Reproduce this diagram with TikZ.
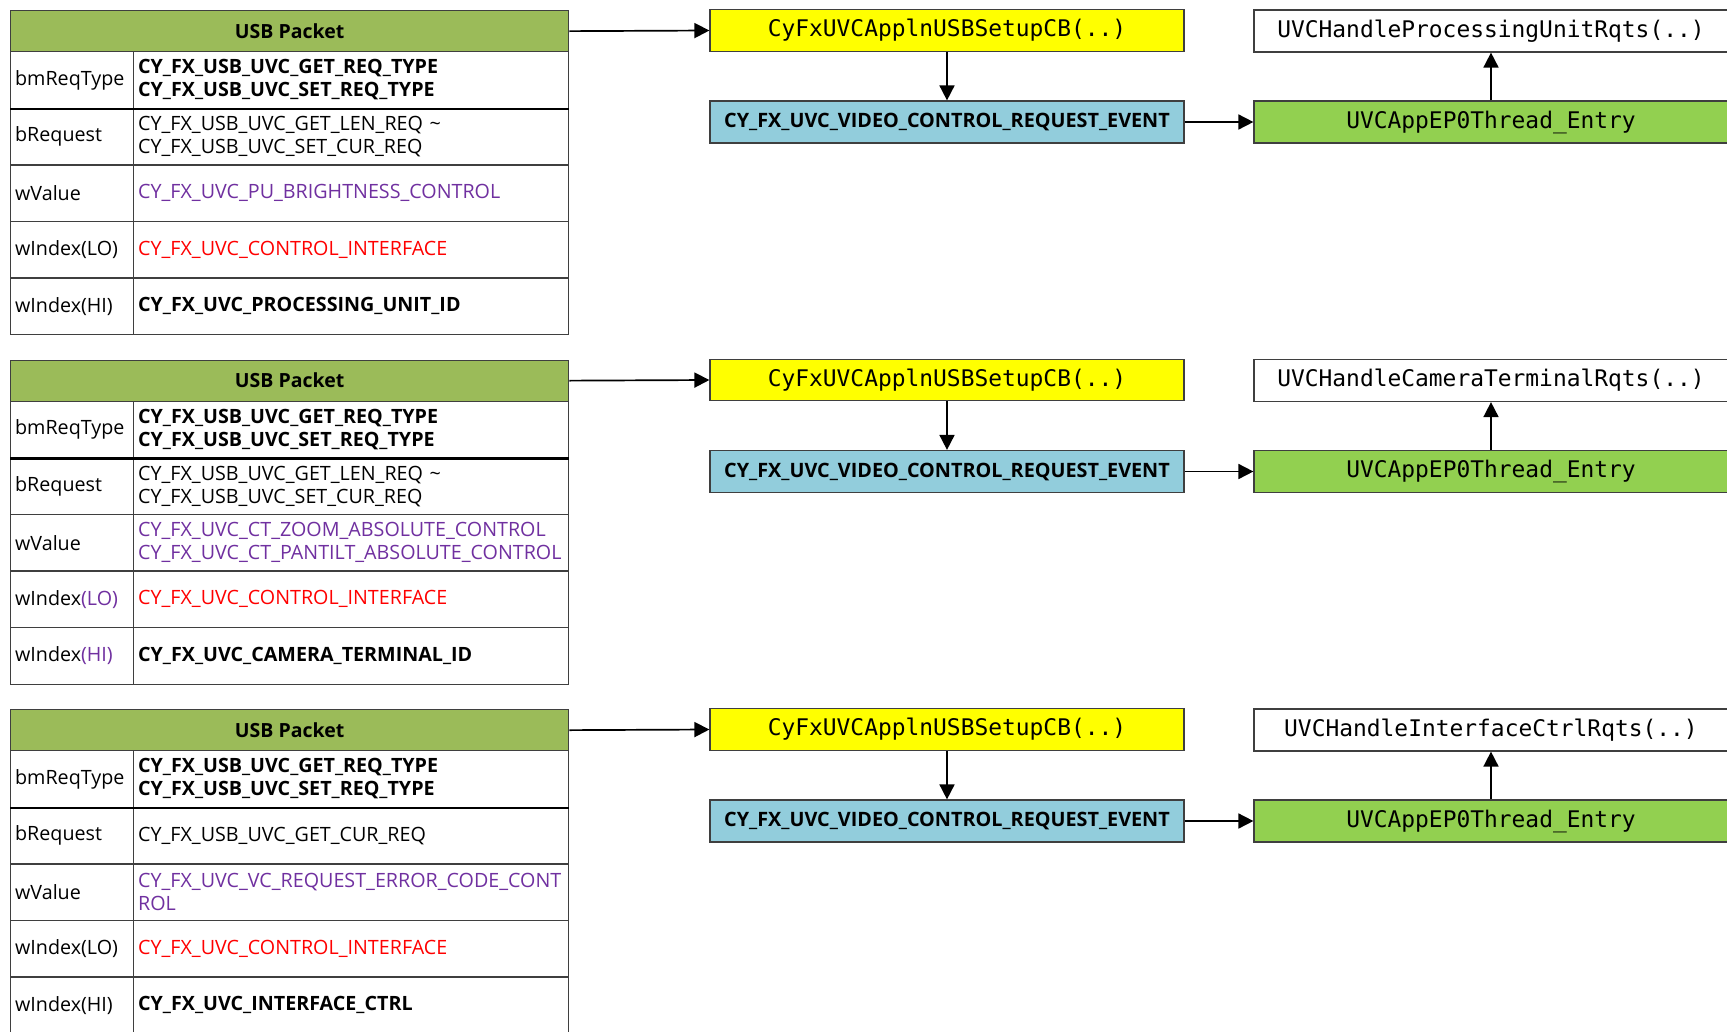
\documentclass[tikz,border=0pt]{standalone}
\usepackage{fontspec}
\usetikzlibrary{arrows.meta}
\newfontfamily\cellfont{Open Sans}
\newfontfamily\codefont{DejaVu Sans Mono}

\definecolor{hdrgreen}{HTML}{9BBB59}
\definecolor{evblue}{HTML}{92CDDC}
\definecolor{epgreen}{HTML}{92D050}
\definecolor{cbyellow}{HTML}{FFFF00}
\definecolor{valpurple}{HTML}{7030A0}
\definecolor{ifred}{HTML}{FF0000}
\definecolor{rulegray}{HTML}{3F3F3F}

\tikzset{
  tblcell/.style={draw=rulegray, line width=1.3pt, anchor=north west,
    minimum height=56.6pt, inner xsep=4.5pt, inner ysep=0pt, align=left,
    font=\cellfont\fontsize{19.7}{23}\selectfont,
    execute at begin node={\hyphenpenalty=10000\exhyphenpenalty=10000}},
  keycell/.style={tblcell, text width=114pt},
  valcell/.style={tblcell, text width=426pt},
  pkthead/.style={draw=rulegray, line width=1.3pt, fill=hdrgreen, anchor=north west,
    minimum width=558pt, minimum height=41pt, inner sep=0pt,
    font=\cellfont\bfseries\fontsize{19.5}{23}\selectfont},
  fnbox/.style={draw=rulegray, line width=1.2pt, minimum width=474pt,
    minimum height=41.5pt, inner sep=0pt,
    font=\codefont\fontsize{22.9}{26}\selectfont},
  evbox/.style={draw=rulegray, line width=1.2pt, fill=evblue, minimum width=474pt,
    minimum height=42pt, inner sep=0pt,
    font=\cellfont\bfseries\fontsize{19.8}{23}\selectfont},
  flow/.style={-{Triangle[length=15pt,width=15pt]}, line width=1.7pt},
}

% #1 name prefix, #2 vertical offset, #3 bRequest, #4 wValue,
% #5 wIndex(LO) key, #6 wIndex(HI) key, #7 wIndex(HI) value, #8 handler
\newcommand\packetgroup[8]{%
\begin{scope}[shift={(0,#2)}]
  % request table
  \node[pkthead] (#1hdr) at (10,10) {USB Packet};
  \node[keycell] (#1bmk) at (10,51) {bmReqType};
  \node[valcell] (#1bmv) at (133,51)
    {\bfseries CY\_FX\_USB\_UVC\_GET\_REQ\_TYPE\\CY\_FX\_USB\_UVC\_SET\_REQ\_TYPE};
  \node[keycell] (#1brk) at (10,107.6) {bRequest};
  \node[valcell] (#1brv) at (133,107.6) {#3};
  \node[keycell] (#1wvk) at (10,164.2) {wValue};
  \node[valcell] (#1wvv) at (133,164.2) {#4};
  \node[keycell] (#1lok) at (10,220.8) {#5};
  \node[valcell] (#1lov) at (133,220.8) {\color{ifred}CY\_FX\_UVC\_CONTROL\_INTERFACE};
  \node[keycell] (#1hik) at (10,277.4) {#6};
  \node[valcell] (#1hiv) at (133,277.4) {\bfseries #7};
  \draw[line width=2.2pt, black] (#1bmk.south west) -- (#1bmv.south east);
  % call chain
  \node[fnbox, fill=cbyellow] (#1cb) at (947,30.5) {CyFxUVCApplnUSBSetupCB(..)};
  \node[evbox] (#1ev) at (947,122) {CY\_FX\_UVC\_VIDEO\_CONTROL\_REQUEST\_EVENT};
  \node[fnbox, fill=epgreen, minimum height=42pt] (#1ep) at (1491,122) {UVCAppEP0Thread\_Entry};
  \node[fnbox, fill=white, minimum height=42pt] (#1hd) at (1491,31) {#8};
  \draw[flow] (#1hdr.east) -- (#1cb.west);
  \draw[flow] (#1cb.south) -- (#1ev.north);
  \draw[flow] (#1ev.east) -- (#1ep.west);
  \draw[flow] (#1ep.north) -- (#1hd.south);
\end{scope}}

\begin{document}
\begin{tikzpicture}[x=1pt, y=-1pt]
  \useasboundingbox (0,0) rectangle (1727,1031);
  \fill[white] (0,0) rectangle (1727,1031);
  \clip (0,0) rectangle (1727,1031);

  \packetgroup{a}{0}
    {CY\_FX\_USB\_UVC\_GET\_LEN\_REQ \textasciitilde\\CY\_FX\_USB\_UVC\_SET\_CUR\_REQ}
    {\color{valpurple}CY\_FX\_UVC\_PU\_BRIGHTNESS\_CONTROL}
    {wIndex(LO)}{wIndex(HI)}
    {CY\_FX\_UVC\_PROCESSING\_UNIT\_ID}
    {UVCHandleProcessingUnitRqts(..)}

  \packetgroup{b}{349.5}
    {CY\_FX\_USB\_UVC\_GET\_LEN\_REQ \textasciitilde\\CY\_FX\_USB\_UVC\_SET\_CUR\_REQ}
    {\color{valpurple}CY\_FX\_UVC\_CT\_ZOOM\_ABSOLUTE\_CONTROL\\CY\_FX\_UVC\_CT\_PANTILT\_ABSOLUTE\_CONTROL}
    {wIndex\textcolor{valpurple}{(LO)}}{wIndex\textcolor{valpurple}{(HI)}}
    {CY\_FX\_UVC\_CAMERA\_TERMINAL\_ID}
    {UVCHandleCameraTerminalRqts(..)}

  \packetgroup{c}{699}
    {CY\_FX\_USB\_UVC\_GET\_CUR\_REQ}
    {\color{valpurple}CY\_FX\_UVC\_VC\_REQUEST\_ERROR\_CODE\_CONT\\ROL}
    {wIndex(LO)}{wIndex(HI)}
    {CY\_FX\_UVC\_INTERFACE\_CTRL}
    {UVCHandleInterfaceCtrlRqts(..)}
\end{tikzpicture}
\end{document}
